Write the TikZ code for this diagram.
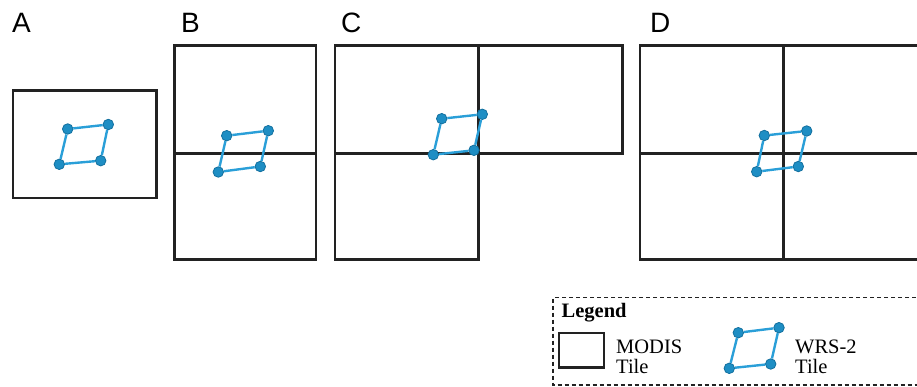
\documentclass[tikz,border=0pt]{standalone}
\usepackage{fontspec}
\setmainfont{Liberation Serif}
\newfontfamily\labelfont{Liberation Sans}
\definecolor{tileblack}{HTML}{222222}
\definecolor{wrsline}{HTML}{2A9FD8}
\definecolor{wrsdot}{HTML}{1E8EC4}
\definecolor{wrsedge}{HTML}{13709F}
\begin{document}
\begin{tikzpicture}[x=1pt,y=-1pt,
  modis/.style={draw=tileblack,line width=2.7pt},
  wrs/.style={draw=wrsline,line width=2.4pt},
  corner/.style={circle,fill=wrsdot,draw=wrsedge,line width=0.8pt,minimum size=10.5pt,inner sep=0pt},
  panel/.style={font=\labelfont\fontsize{28}{30}\selectfont,anchor=base west,inner sep=0pt},
  legtext/.style={font=\fontsize{20.5}{20}\selectfont,anchor=base west,inner sep=0pt,align=left}]
\useasboundingbox (0,0) rectangle (917,387);

% WRS-2 footprint: four corner dots joined by blue edges
\newcommand\wrsquad[9]{%
  \node[corner] (#1a) at (#2,#3) {};
  \node[corner] (#1b) at (#4,#5) {};
  \node[corner] (#1c) at (#6,#7) {};
  \node[corner] (#1d) at (#8,#9) {};
  \draw[wrs] (#1a) -- (#1b) -- (#1c) -- (#1d) -- (#1a);
}

% panel labels
\node[panel] (lA) at (12,33) {A};
\node[panel] (lB) at (181,33) {B};
\node[panel] (lC) at (341,33) {C};
\node[panel] (lD) at (650,33) {D};

% A: one MODIS tile
\draw[modis] (13,90.5) rectangle (156.5,198);
\wrsquad{A}{67.7}{129}{108.3}{124.5}{100.7}{160.7}{59.3}{164.3}

% B: two stacked tiles
\draw[modis] (174.5,45.7) rectangle (316,259.7);
\draw[modis] (174.5,153.3) -- (316,153.3);
\wrsquad{B}{226.7}{135.7}{268.3}{130.7}{260.3}{166.5}{218.3}{172}

% C: three tiles in an L
\draw[modis] (335,45.7) rectangle (478.3,259.7);
\draw[modis] (478.3,45.7) rectangle (622.5,153.3);
\draw[modis] (335,153.3) -- (478.3,153.3);
\wrsquad{C}{441.7}{118.7}{482.3}{114.3}{474}{150.3}{433.3}{154.7}

% D: four tiles meeting at a corner
\draw[modis] (930,45.7) -- (640,45.7) -- (640,259.7) -- (930,259.7);
\draw[modis] (783.7,45.7) -- (783.7,259.7);
\draw[modis] (640,153.3) -- (930,153.3);
\wrsquad{D}{764.3}{135.5}{806.7}{131}{798.3}{166.5}{756.7}{171.7}

% legend
\draw[tileblack,line width=1.3pt,dash pattern=on 4.5pt off 2.5pt] (930,297.5) -- (553,297.5) -- (553,385) -- (930,385);
\node[legtext,font=\bfseries\fontsize{20.5}{20}\selectfont] (leg) at (561.5,317.5) {Legend};
\draw[modis] (559,333) rectangle (604,367.3);
\node[legtext] (modisT) at (616,373.3) {MODIS\\Tile};
\wrsquad{L}{738.3}{332.7}{779}{327.7}{770.7}{364}{729.3}{368.3}
\node[legtext] (wrsT) at (795,373.3) {WRS-2\\Tile};
\end{tikzpicture}
\end{document}
